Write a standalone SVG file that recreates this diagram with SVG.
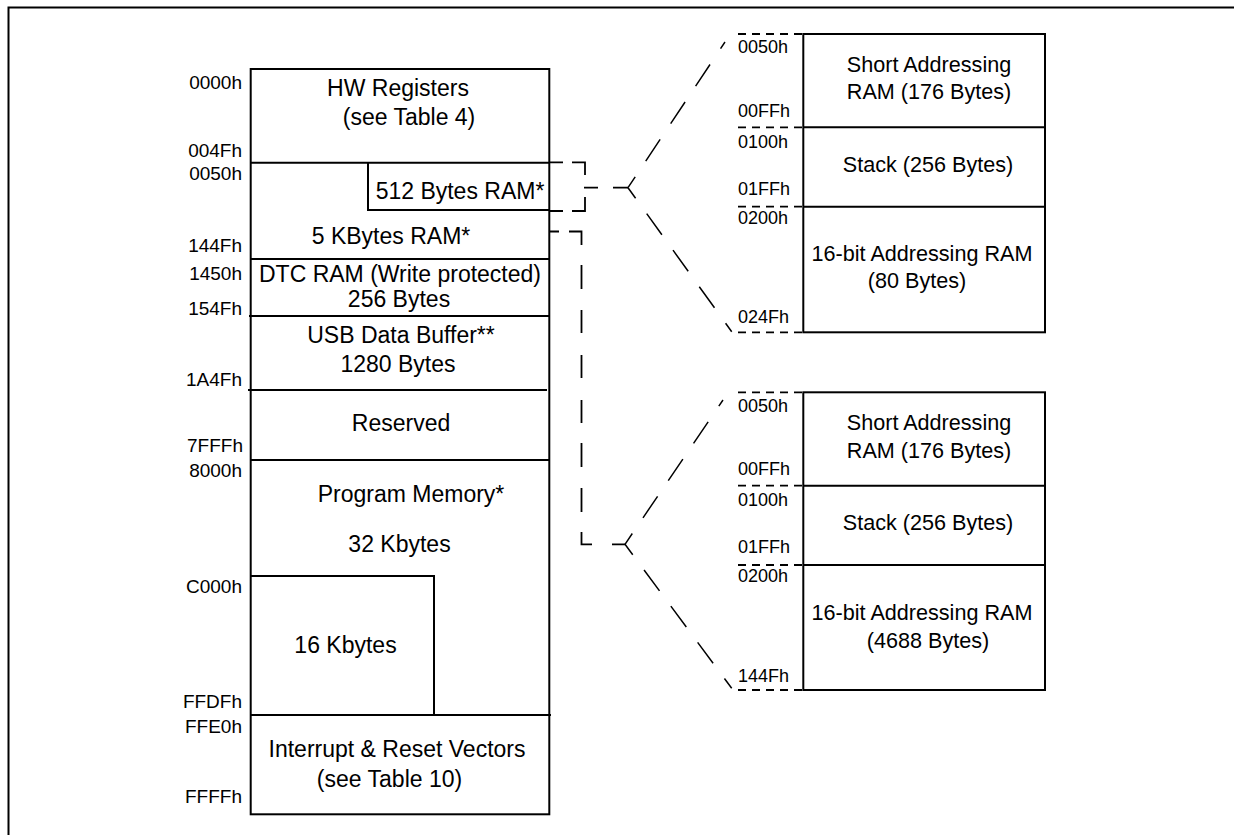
<svg xmlns="http://www.w3.org/2000/svg" width="1234" height="835" viewBox="0 0 1234 835">
<style>
.ln{fill:none;stroke:#000;stroke-width:2}
.dash{fill:none;stroke:#000;stroke-width:1.8}
.stub{fill:none;stroke:#000;stroke-width:1.8;stroke-dasharray:8 6}
.diag{fill:none;stroke:#000;stroke-width:1.5;stroke-dasharray:26 19}
.bt{font-family:"Liberation Sans",Arial,sans-serif;font-size:23px;fill:#000;text-anchor:middle}
.rt{font-family:"Liberation Sans",Arial,sans-serif;font-size:21.6px;fill:#000;text-anchor:middle}
.la{font-family:"Liberation Sans",Arial,sans-serif;font-size:19px;fill:#000;text-anchor:end}
.ra{font-family:"Liberation Sans",Arial,sans-serif;font-size:18px;fill:#000}
</style>
<rect width="1234" height="835" fill="#fff"/>
<path class="ln" d="M8.5,835 V7.5 H1234"/>

<g id="memory-map">
<rect class="ln" x="250.7" y="69" width="298.6" height="745.3"/>
<path class="ln" d="M250.7,162.7 H549.3 M368,162.7 V210 H549.3 M250.7,259 H549.3 M249,316 H549.3 M248,390 H547 M250.7,460 H549.3 M250.7,576 H434 V715 M250.7,715 H551"/>
</g>

<g id="hw-registers">
<text class="bt" x="398" y="96">HW Registers</text>
<text class="bt" x="409" y="125">(see Table 4)</text>
</g>
<g id="ram-512"><text class="bt" x="460" y="199">512 Bytes RAM*</text></g>
<g id="ram-5k"><text class="bt" x="391" y="244">5 KBytes RAM*</text></g>
<g id="dtc-ram">
<text class="bt" x="400" y="282">DTC RAM (Write protected)</text>
<text class="bt" x="399" y="307">256 Bytes</text>
</g>
<g id="usb-buffer">
<text class="bt" x="401" y="343">USB Data Buffer**</text>
<text class="bt" x="398" y="372">1280 Bytes</text>
</g>
<g id="reserved"><text class="bt" x="401" y="431">Reserved</text></g>
<g id="program-memory">
<text class="bt" x="411" y="502">Program Memory*</text>
<text class="bt" x="399.5" y="552">32 Kbytes</text>
</g>
<g id="k16"><text class="bt" x="345.5" y="653">16 Kbytes</text></g>
<g id="vectors">
<text class="bt" x="397" y="757">Interrupt &amp; Reset Vectors</text>
<text class="bt" x="389.5" y="787">(see Table 10)</text>
</g>

<g id="left-addresses">
<text class="la" x="242" y="89">0000h</text>
<text class="la" x="242" y="157">004Fh</text>
<text class="la" x="242" y="180">0050h</text>
<text class="la" x="242" y="252">144Fh</text>
<text class="la" x="242" y="280">1450h</text>
<text class="la" x="242" y="315">154Fh</text>
<text class="la" x="242" y="386">1A4Fh</text>
<text class="la" x="243" y="452">7FFFh</text>
<text class="la" x="242" y="477">8000h</text>
<text class="la" x="242" y="593">C000h</text>
<text class="la" x="242" y="708">FFDFh</text>
<text class="la" x="242" y="733">FFE0h</text>
<text class="la" x="242" y="803">FFFFh</text>
</g>

<g id="ram512-map">
<rect class="ln" x="803.3" y="34" width="241.7" height="298.3"/>
<path class="ln" d="M803.3,127.3 H1045 M803.3,206.7 H1045"/>
<text class="rt" x="929" y="72">Short Addressing</text>
<text class="rt" x="929" y="99">RAM (176 Bytes)</text>
<text class="rt" x="928" y="172">Stack (256 Bytes)</text>
<text class="rt" x="922" y="261">16-bit Addressing RAM</text>
<text class="rt" x="917" y="288">(80 Bytes)</text>
<text class="ra" x="738" y="53">0050h</text>
<text class="ra" x="738" y="117">00FFh</text>
<text class="ra" x="738" y="148">0100h</text>
<text class="ra" x="738" y="195">01FFh</text>
<text class="ra" x="738" y="224">0200h</text>
<text class="ra" x="738" y="323">024Fh</text>
</g>

<g id="ram5k-map">
<rect class="ln" x="803.3" y="392.3" width="241.7" height="297.7"/>
<path class="ln" d="M803.3,485.7 H1045 M803.3,565 H1045"/>
<text class="rt" x="929" y="430">Short Addressing</text>
<text class="rt" x="929" y="458">RAM (176 Bytes)</text>
<text class="rt" x="928" y="530">Stack (256 Bytes)</text>
<text class="rt" x="922" y="620">16-bit Addressing RAM</text>
<text class="rt" x="928" y="648">(4688 Bytes)</text>
<text class="ra" x="738" y="412">0050h</text>
<text class="ra" x="738" y="475">00FFh</text>
<text class="ra" x="738" y="506">0100h</text>
<text class="ra" x="738" y="553">01FFh</text>
<text class="ra" x="738" y="582">0200h</text>
<text class="ra" x="738" y="682">144Fh</text>
</g>

<g id="connectors">
<path class="stub" d="M738,34 H803 M738,127.3 H803 M738,206.7 H803 M738,332.3 H803"/>
<path class="stub" d="M738,392.3 H803 M738,485.7 H803 M738,565 H803 M738,690 H803"/>
<path class="dash" d="M549,162.3 H563 M572,162.3 H585 V175 M585,197 V211 H572 M563,211 H549 M584,187.7 H598 M613,187.7 H628"/>
<path class="diag" stroke-dashoffset="13" d="M628,187.7 L725,42"/>
<path class="diag" stroke-dashoffset="13" d="M628,187.7 L731.7,331.7"/>
<path class="dash" d="M549,231.5 H559 M569,231.5 H581.5 V245 M581.5,265 V289 M581.5,310 V333 M581.5,355 V378 M581.5,400 V423 M581.5,443 V467 M581.5,488 V512 M581.5,532 V544.3 H592 M612,544.3 H625"/>
<path class="diag" stroke-dashoffset="13" d="M625,544.3 L723,400"/>
<path class="diag" stroke-dashoffset="13" d="M625,544.3 L731.7,688.3"/>
</g>
</svg>
